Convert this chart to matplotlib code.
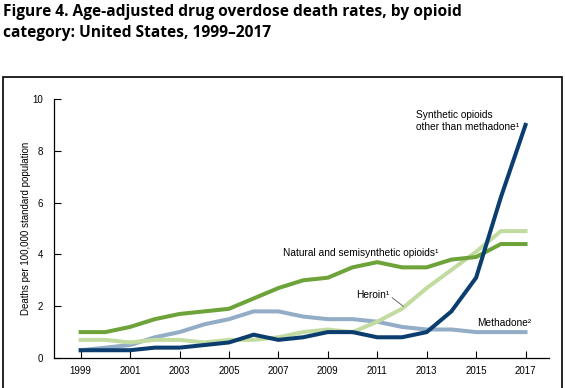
import matplotlib
matplotlib.use("Agg")
import matplotlib.pyplot as plt
from matplotlib.patches import Rectangle

years = list(range(1999, 2018))
synthetic = [0.3, 0.3, 0.3, 0.4, 0.4, 0.5, 0.6, 0.9, 0.7, 0.8, 1.0, 1.0, 0.8, 0.8, 1.0, 1.8, 3.1, 6.2, 9.0]
natural = [1.0, 1.0, 1.2, 1.5, 1.7, 1.8, 1.9, 2.3, 2.7, 3.0, 3.1, 3.5, 3.7, 3.5, 3.5, 3.8, 3.9, 4.4, 4.4]
heroin = [0.7, 0.7, 0.6, 0.7, 0.7, 0.6, 0.7, 0.7, 0.8, 1.0, 1.1, 1.0, 1.4, 1.9, 2.7, 3.4, 4.1, 4.9, 4.9]
methadone = [0.3, 0.4, 0.5, 0.8, 1.0, 1.3, 1.5, 1.8, 1.8, 1.6, 1.5, 1.5, 1.4, 1.2, 1.1, 1.1, 1.0, 1.0, 1.0]
xticks = [1999, 2001, 2003, 2005, 2007, 2009, 2011, 2013, 2015, 2017]
yticks = [0, 2, 4, 6, 8, 10]

plt.rcParams['font.family'] = ['Liberation Sans', 'DejaVu Sans']

fig = plt.figure(figsize=(5.65, 3.88), dpi=100)
ax = fig.add_axes([54/565, 1-358/388, (549-54)/565, (358-99)/388])

c_syn = '#0b3d6f'
c_nat = '#6ea33a'
c_her = '#c2dba0'
c_met = '#93adc7'
lw = 2.9
ax.plot(years, methadone, color=c_met, lw=lw, solid_joinstyle='miter', zorder=2)
ax.plot(years, heroin, color=c_her, lw=lw, solid_joinstyle='miter', zorder=3)
ax.plot(years, natural, color=c_nat, lw=lw, solid_joinstyle='miter', zorder=4)
ax.plot(years, synthetic, color=c_syn, lw=lw, solid_joinstyle='miter', zorder=5)

ax.set_xlim(1997.92, 2017.95)
ax.set_ylim(0, 10)
ax.set_xticks(xticks)
ax.set_yticks(yticks)
ax.tick_params(direction='in', length=5, width=0.8, labelsize=7, color='black', pad=6)
ax.tick_params(axis='y', pad=8)
for s in ['top', 'right']:
    ax.spines[s].set_visible(False)
for s in ['left', 'bottom']:
    ax.spines[s].set_linewidth(0.9)
ax.spines['left'].set_bounds(0, 10)
ax.set_ylabel('Deaths per 100,000 standard population', fontsize=7, labelpad=0.5)

fs = 7.3
ax.text(2012.58, 9.15, 'Synthetic opioids\nother than methadone\u00b9', fontsize=fs, va='center', ha='left', linespacing=1.3)
ax.text(2007.19, 4.05, 'Natural and semisynthetic opioids\u00b9', fontsize=fs, va='center', ha='left')
ax.text(2010.14, 2.43, 'Heroin\u00b9', fontsize=fs, va='center', ha='left')
ax.text(2015.04, 1.35, 'Methadone\u00b2', fontsize=fs, va='center', ha='left')
ax.plot([2011.6, 2012.05], [2.33, 2.0], color='#555555', lw=0.6, zorder=6)

fig.text(3/565, 1-4/388, 'Figure 4. Age-adjusted drug overdose death rates, by opioid\ncategory: United States, 1999\u20132017',
         fontsize=11.2, fontweight='bold', family=['Open Sans', 'DejaVu Sans'], va='top', ha='left', linespacing=1.4)

fig.patches.append(Rectangle((3/565, -0.02), (562-3)/565, 1-77/388+0.02, transform=fig.transFigure,
                             fill=False, edgecolor='black', lw=1.2))

fig.savefig('out.png', dpi=100)
